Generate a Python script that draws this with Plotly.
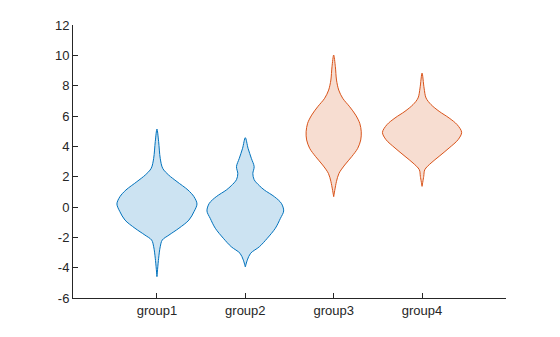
import plotly.graph_objects as go

# Violin outlines: density half-width (in x-axis units) at each y level
categories = ["group1", "group2", "group3", "group4"]

y_group1 = [5.14, 4.31, 3.21, 2.55, 2.11, 1.67, 1.12, 0.68, 0.20, -0.31, -0.86, -1.40, -1.85, -2.18, -2.62, -3.38, -4.59]
w_group1 = [0.0, 0.019, 0.037, 0.065, 0.132, 0.227, 0.351, 0.419, 0.453, 0.419, 0.362, 0.249, 0.136, 0.060, 0.037, 0.019, 0.0]

y_group2 = [4.57, 3.87, 3.21, 2.66, 2.20, 1.80, 1.40, 1.12, 0.68, 0.24, -0.26, -0.75, -1.40, -2.06, -2.62, -3.05, -3.49, -3.95]
w_group2 = [0.0, 0.031, 0.068, 0.100, 0.085, 0.100, 0.160, 0.215, 0.329, 0.408, 0.434, 0.397, 0.340, 0.249, 0.159, 0.060, 0.023, 0.0]

y_group3 = [10.02, 9.25, 8.37, 7.71, 7.17, 6.61, 6.06, 5.52, 4.96, 4.42, 3.87, 3.32, 2.77, 2.22, 1.67, 0.68]
w_group3 = [0.0, 0.019, 0.032, 0.057, 0.102, 0.181, 0.249, 0.295, 0.312, 0.306, 0.272, 0.204, 0.125, 0.060, 0.031, 0.0]

y_group4 = [8.83, 7.84, 7.19, 6.75, 6.31, 5.87, 5.43, 4.92, 4.44, 3.89, 3.34, 2.90, 2.46, 2.02, 1.36]
w_group4 = [0.0, 0.023, 0.045, 0.102, 0.193, 0.306, 0.397, 0.448, 0.408, 0.306, 0.193, 0.102, 0.031, 0.019, 0.0]

y_ticks = [-6, -4, -2, 0, 2, 4, 6, 8, 10, 12]
y_tick_labels = ["-6", "-4", "-2", "0", "2", "4", "6", "8", "10", "12"]

blue_edge, blue_fill = "#0072BD", "rgba(0,114,189,0.2)"
orange_edge, orange_fill = "#D95319", "rgba(217,83,25,0.2)"

groups = [
    (y_group1, w_group1, blue_edge, blue_fill),
    (y_group2, w_group2, blue_edge, blue_fill),
    (y_group3, w_group3, orange_edge, orange_fill),
    (y_group4, w_group4, orange_edge, orange_fill),
]

fig = go.Figure()
for i, (ys, ws, edge, fill) in enumerate(groups):
    center = i + 1
    # right side top→bottom, then left side bottom→top
    xs = [center + w for w in ws] + [center - w for w in reversed(ws)]
    yy = list(ys) + list(reversed(ys))
    fig.add_trace(go.Scatter(
        x=xs, y=yy, mode="lines", fill="toself", fillcolor=fill,
        line=dict(color=edge, width=1, shape="spline", smoothing=0.9),
        hoverinfo="skip", showlegend=False,
    ))

axis_color = "#262626"
fig.update_layout(
    width=560, height=337,
    margin=dict(l=73, r=54, t=25, b=39),
    paper_bgcolor="white", plot_bgcolor="white",
    font=dict(family="Liberation Sans, Arial, sans-serif", size=13, color=axis_color),
    xaxis=dict(
        range=[0.05, 4.95], tickmode="array", tickvals=[1, 2, 3, 4], ticktext=categories,
        showgrid=False, zeroline=False, showline=True, linecolor=axis_color, linewidth=1,
        ticks="inside", ticklen=5, tickcolor=axis_color, mirror=False,
    ),
    yaxis=dict(
        range=[-6, 12], tickmode="array", tickvals=y_ticks, ticktext=y_tick_labels,
        showgrid=False, zeroline=False, showline=True, linecolor=axis_color, linewidth=1,
        ticks="inside", ticklen=5, tickcolor=axis_color, mirror=False,
    ),
)

fig.write_html("out.html")
